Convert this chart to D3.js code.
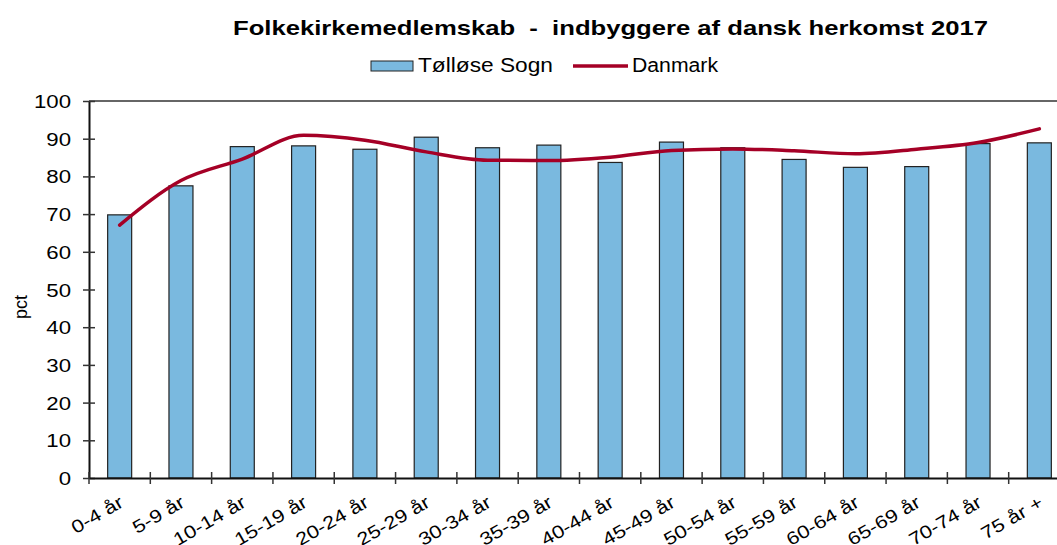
<!DOCTYPE html>
<html>
<head>
<meta charset="utf-8">
<script src="https://cdn.jsdelivr.net/npm/d3@7"></script>
<style>
  body { margin: 0; background: #fff; }
  svg { font-family: "Liberation Sans", Arial, sans-serif; }
  text { white-space: pre; }
</style>
</head>
<body>
<div id="chart"></div>
<script>
var categories = ["0-4 år", "5-9 år", "10-14 år", "15-19 år", "20-24 år", "25-29 år", "30-34 år", "35-39 år",
                  "40-44 år", "45-49 år", "50-54 år", "55-59 år", "60-64 år", "65-69 år", "70-74 år", "75 år +"];
var tollose = [69.8, 77.5, 87.9, 88.1, 87.2, 90.4, 87.6, 88.3, 83.7, 89.1, 87.6, 84.5, 82.4, 82.6, 88.7, 88.9];
var danmark = [67.1, 78.9, 84.6, 90.9, 89.6, 86.5, 84.3, 84.2, 85.1, 86.9, 87.3, 86.8, 86.0, 87.2, 89.0, 92.6];
var yTicks = [0, 10, 20, 30, 40, 50, 60, 70, 80, 90, 100];

var width = 1057, height = 545;
var plotLeft = 89, plotRight = 1070, plotTop = 101, plotBottom = 478;
var stretch = 1.2; // the reference text is a bit wider than plain Arial

var svg = d3.select("#chart").append("svg")
    .attr("width", width)
    .attr("height", height);

var x = d3.scaleBand().domain(categories).range([plotLeft, plotRight]);
var y = d3.scaleLinear().domain([0, 100]).range([plotBottom, plotTop]);

// title
svg.append("text")
    .attr("x", 233).attr("y", 35)
    .attr("textLength", 755).attr("lengthAdjust", "spacingAndGlyphs")
    .style("font-size", "21px").style("font-weight", "bold")
    .text("Folkekirkemedlemskab  -  indbyggere af dansk herkomst 2017");

// legend
var lg = svg.append("g");
lg.append("rect").attr("x", 371).attr("y", 61).attr("width", 42).attr("height", 10)
    .attr("fill", "#7ab9df").attr("stroke", "#222").attr("stroke-width", 1);
lg.append("text").attr("x", 418).attr("y", 72)
    .attr("textLength", 135).attr("lengthAdjust", "spacingAndGlyphs")
    .style("font-size", "20px").text("Tølløse Sogn");
lg.append("line").attr("x1", 573).attr("x2", 628).attr("y1", 66).attr("y2", 66)
    .attr("stroke", "#a50026").attr("stroke-width", 3.5);
lg.append("text").attr("x", 632).attr("y", 72)
    .attr("textLength", 86).attr("lengthAdjust", "spacingAndGlyphs")
    .style("font-size", "20px").text("Danmark");

// top border
svg.append("line").attr("x1", plotLeft).attr("x2", plotRight).attr("y1", plotTop).attr("y2", plotTop)
    .attr("stroke", "#666").attr("stroke-width", 2);

// bars
var bw = 24;
svg.selectAll("rect.bar")
    .data(tollose)
    .enter()
    .append("rect")
    .attr("class", "bar")
    .attr("x", function(d, i) { return x(categories[i]) + x.bandwidth() / 2 - bw / 2; })
    .attr("y", function(d) { return y(d); })
    .attr("width", bw)
    .attr("height", function(d) { return plotBottom - y(d); })
    .attr("fill", "#7ab9df")
    .attr("stroke", "#222")
    .attr("stroke-width", 1.2);

// line
var line = d3.line()
    .x(function(d, i) { return x(categories[i]) + x.bandwidth() / 2; })
    .y(function(d) { return y(d); })
    .curve(d3.curveMonotoneX);

svg.append("path")
    .datum(danmark)
    .attr("d", line)
    .attr("fill", "none")
    .attr("stroke", "#a50026")
    .attr("stroke-width", 3.5)
    .attr("stroke-linecap", "round")
    .attr("stroke-linejoin", "round");

// y axis
var yAxis = svg.append("g")
    .attr("transform", "translate(" + plotLeft + ",0)")
    .call(d3.axisLeft(y).tickValues(yTicks).tickSize(0).tickFormat(""));
yAxis.select(".domain").attr("stroke", "#111").attr("stroke-width", 2);
yAxis.selectAll(".tick line").attr("x1", -6).attr("x2", 6).attr("stroke", "#333").attr("stroke-width", 1.5);

svg.selectAll("text.ylab")
    .data(yTicks)
    .enter()
    .append("text")
    .attr("class", "ylab")
    .attr("text-anchor", "end")
    .attr("transform", function(d) { return "translate(71," + (y(d) + 7) + ") scale(" + stretch + ",1)"; })
    .style("font-size", "18.5px")
    .text(function(d) { return d; });

svg.append("text")
    .attr("transform", "translate(27,307) rotate(-90)")
    .attr("text-anchor", "middle")
    .style("font-size", "18px")
    .text("pct");

// x axis
var xAxis = svg.append("g")
    .attr("transform", "translate(0," + plotBottom + ")")
    .call(d3.axisBottom(x).tickSize(0).tickFormat(""));
xAxis.select(".domain").attr("stroke", "#111").attr("stroke-width", 2);

var tickPos = d3.range(categories.length + 1).map(function(i) { return plotLeft + i * x.step(); });
svg.selectAll("line.xtick")
    .data(tickPos)
    .enter()
    .append("line")
    .attr("class", "xtick")
    .attr("x1", function(d) { return d; }).attr("x2", function(d) { return d; })
    .attr("y1", plotBottom - 6).attr("y2", plotBottom + 6)
    .attr("stroke", "#333").attr("stroke-width", 1.5);

svg.selectAll("text.xlab")
    .data(categories)
    .enter()
    .append("text")
    .attr("class", "xlab")
    .attr("text-anchor", "end")
    .attr("transform", function(d) {
        return "translate(" + (x(d) + x.bandwidth() / 2 + 5) + "," + (plotBottom + 28) + ") rotate(-30) scale(" + stretch + ",1)";
    })
    .style("font-size", "18px")
    .text(function(d) { return d; });
</script>
</body>
</html>
